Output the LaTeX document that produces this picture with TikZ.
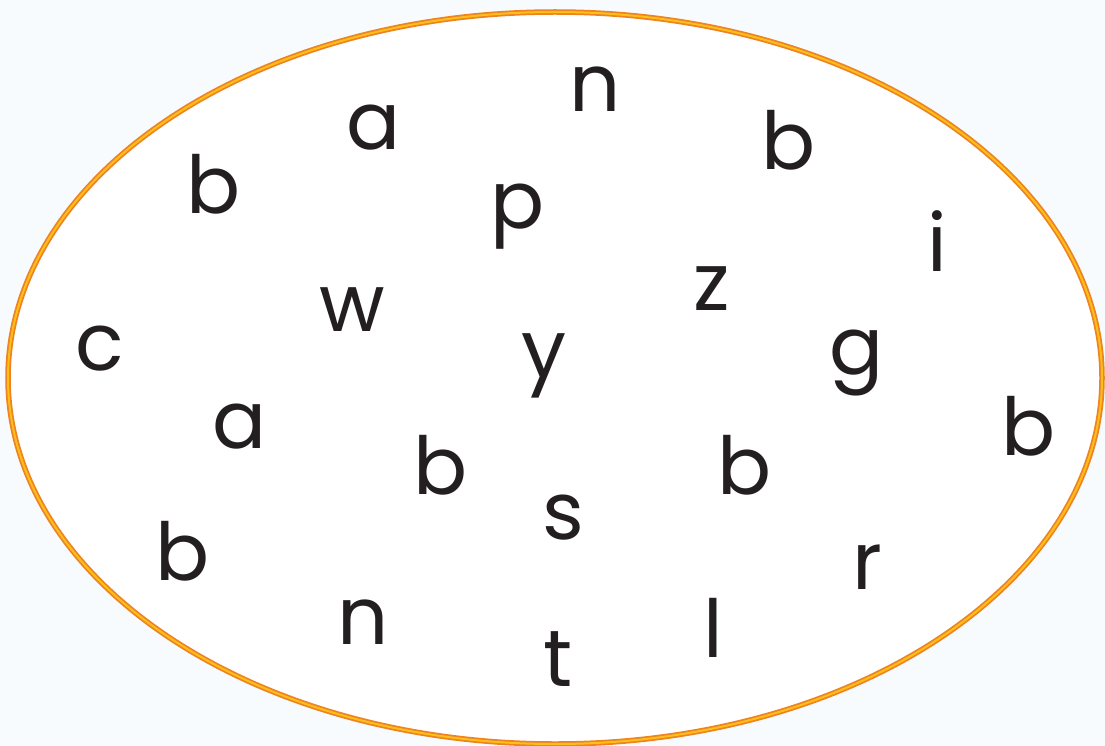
\documentclass[tikz,border=0pt]{standalone}
\usepackage{fontspec}
\setmainfont{Poppins}
\definecolor{bgblue}{HTML}{F7FBFD}
\definecolor{rimorange}{HTML}{EE8322}
\definecolor{rimyellow}{HTML}{FDBE1A}
\definecolor{ink}{HTML}{231F20}
\tikzset{
  letter/.style={anchor=base, inner sep=0pt, text=ink, font=\fontsize{80}{80}\selectfont},
}
\begin{document}
\begin{tikzpicture}[x=1pt, y=-1pt]
\fill[bgblue] (0,0) rectangle (1105,746);
\useasboundingbox (0,0) rectangle (1105,746);
\fill[white] (555,378) ellipse [x radius=547, y radius=366];
\draw[rimorange, line width=5.5pt] (555,378) ellipse [x radius=547, y radius=366];
\draw[rimyellow, line width=2pt] (555,378) ellipse [x radius=547, y radius=366];
\node[letter] (n1) at (595,112) {n};
\node[letter] (a1) at (374,150) {a};
\node[letter] (b1) at (214,213) {b};
\node[letter] (b2) at (789,170) {b};
\node[letter] (p1) at (518,228) {p};
\node[letter] (i1) at (937,271) {i};
\node[letter] (z1) at (712,310) {z};
\node[letter] (w1) at (352,331) {w};
\node[letter] (c1) at (100,370) {c};
\node[letter] (y1) at (544,377) {y};
\node[letter] (g1) at (857,374) {g};
\node[letter] (a2) at (240,448) {a};
\node[letter] (b3) at (441,494) {b};
\node[letter] (b4) at (745,494) {b};
\node[letter] (b5) at (1029,455) {b};
\node[letter] (s1) at (563,539) {s};
\node[letter] (b6) at (183,580) {b};
\node[letter] (r1) at (867,589) {r};
\node[letter] (n2) at (363,644) {n};
\node[letter] (l1) at (713,657) {l};
\node[letter] (t1) at (558,686) {t};
\end{tikzpicture}
\end{document}
